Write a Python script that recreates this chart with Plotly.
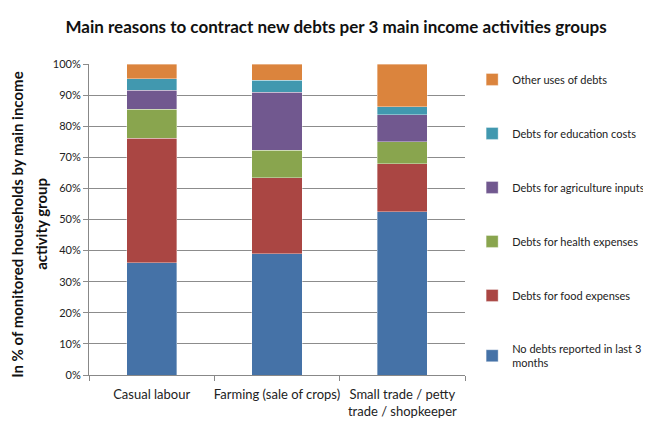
import plotly.graph_objects as go

categories = ["Casual labour", "Farming (sale of crops)", "Small trade / petty<br>trade / shopkeeper"]
series_names = [
    "No debts reported in last 3<br>months",
    "Debts for food expenses",
    "Debts for health expenses",
    "Debts for agriculture inputs",
    "Debts for education costs",
    "Other uses of debts",
]
no_debts = [36.1, 39.0, 52.5]
food = [40.1, 24.5, 15.5]
health = [9.2, 8.8, 7.0]
agriculture = [6.1, 18.6, 8.7]
education = [3.8, 3.8, 2.5]
other = [4.7, 5.3, 13.8]
colors = ["#4572A7", "#AA4643", "#89A54E", "#71588F", "#4198AF", "#DB843D"]
tick_vals = [0, 10, 20, 30, 40, 50, 60, 70, 80, 90, 100]
tick_text = [f"{v}%" for v in tick_vals]
y_title_lines = ["In % of monitored households by main income", "activity group"]

values = [no_debts, food, health, agriculture, education, other]

fig = go.Figure()
for i, (name, vals, col) in enumerate(zip(series_names, values, colors)):
    fig.add_trace(go.Bar(
        x=categories, y=vals, name=name, legendgroup=f"g{i}",
        legendrank=1000 - i,
        marker=dict(color=col, line=dict(width=0.6, color="rgba(255,255,255,0.6)")),
        width=0.4,
    ))

for txt, xp in zip(y_title_lines, [-0.1915, -0.1277]):
    fig.add_annotation(
        text=f"<b>{txt}</b>", textangle=-90, xref="paper", yref="paper",
        x=xp, y=0.486, xanchor="center", yanchor="middle", showarrow=False,
        font=dict(size=15, color="#111"),
    )

fig.update_layout(
    barmode="stack",
    width=651, height=421,
    margin=dict(l=81, r=194, t=56, b=54, autoexpand=False),
    paper_bgcolor="white", plot_bgcolor="white",
    font=dict(family="Lato, Open Sans, sans-serif", size=11, color="#222"),
    title=dict(
        text="<b>Main reasons to contract new debts per 3 main income activities groups</b>",
        x=0.504, xanchor="center", y=0.955, yanchor="middle",
        font=dict(size=17, color="#111", family="Lato, Open Sans, sans-serif"),
    ),
    legend=dict(
        x=1.019, y=0.997, xanchor="left", yanchor="top",
        traceorder="grouped", tracegroupgap=35,
        font=dict(size=11, color="#222"),
        itemwidth=30,
    ),
    xaxis=dict(
        showline=True, linecolor="#888", linewidth=1,
        ticks="outside", tickson="boundaries", ticklen=5, tickcolor="#888",
        tickfont=dict(size=13, color="#222"), tickangle=0, automargin=False,
        ticklabelstandoff=7,
    ),
    yaxis=dict(
        range=[0, 100], tickvals=tick_vals, ticktext=tick_text,
        showgrid=True, gridcolor="#8c8c8c", gridwidth=1,
        showline=True, linecolor="#888", linewidth=1,
        ticks="outside", ticklen=5, tickcolor="#8c8c8c",
        tickfont=dict(size=11, color="#222"), automargin=False,
        zeroline=False,
    ),
)

fig.write_html("out.html")
